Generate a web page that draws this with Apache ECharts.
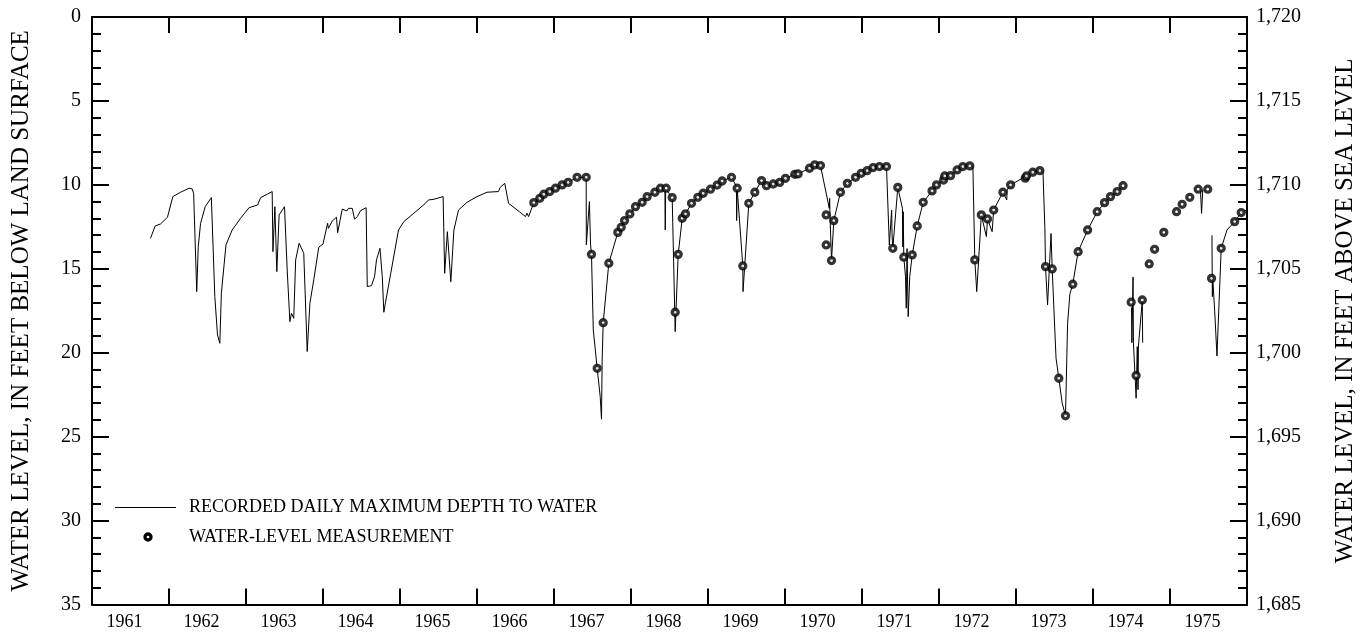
<!DOCTYPE html>
<html>
<head>
<meta charset="utf-8">
<title>Well hydrograph 1961-1975</title>
<script src="https://cdn.jsdelivr.net/npm/echarts@6/dist/echarts.min.js"></script>
<style>
  html, body { margin: 0; padding: 0; background: #fff; }
  #chart { width: 1369px; height: 633px; }
</style>
</head>
<body>
<div id="chart"></div>
<script>
// Year labels along the bottom axis (one per calendar year)
const yearLabels = ['1961', '1962', '1963', '1964', '1965', '1966', '1967', '1968',
  '1969', '1970', '1971', '1972', '1973', '1974', '1975'];

// Recorder trace: decimal year and daily maximum depth to water (ft); null = no record
const recordedYears = [
  1961.76, 1961.82, 1961.89, 1961.98, 1962.05, 1962.15, 1962.26, 1962.30, 1962.32, 1962.36,
  1962.38, 1962.41, 1962.47, 1962.55, 1962.57, 1962.595, 1962.63, 1962.66, 1962.68, 1962.74,
  1962.82, 1962.93, 1963.04, 1963.15, 1963.19, 1963.34, 1963.35, 1963.375, 1963.40, 1963.43,
  1963.50, 1963.535, 1963.57, 1963.59, 1963.62, 1963.645, 1963.69, 1963.75, 1963.795, 1963.83,
  1963.88, 1963.945, 1964.00, 1964.06, 1964.07, 1964.12, 1964.175, 1964.19, 1964.25, 1964.31,
  1964.33, 1964.38, 1964.41, 1964.445, 1964.49, 1964.56, 1964.575, 1964.63, 1964.67, 1964.695,
  1964.74, 1964.77, 1964.79, 1964.81, 1964.88, 1964.98, 1965.05, 1965.18, 1965.33, 1965.37,
  1965.44, 1965.56, 1965.58, 1965.615, 1965.66, 1965.70, 1965.76, 1965.87, 1966.00, 1966.13,
  1966.28, 1966.30, 1966.36, 1966.38, 1966.41, 1966.55, 1966.63, 1966.65, 1966.67, 1966.738,
  1966.816, 1966.868, 1966.945, 1967.019, 1967.106, 1967.184, 1967.30, 1967.418, 1967.42, 1967.46,
  1967.475, 1967.487, 1967.51, 1967.561, 1967.60, 1967.617, 1967.625, 1967.639, 1967.712, 1967.829,
  1967.873, 1967.916, 1967.985, 1968.058, 1968.145, 1968.21, 1968.31, 1968.383, 1968.44, 1968.445,
  1968.45, 1968.457, 1968.535, 1968.574, 1968.613, 1968.665, 1968.708, 1968.786, 1968.868, 1968.938,
  1969.032, 1969.119, 1969.184, 1969.305, 1969.37, 1969.372, 1969.379, 1969.452, 1969.455, 1969.53,
  1969.608, 1969.695, 1969.76, 1969.847, 1969.932, 1970.006, 1970.127, 1970.17, 1970.318, 1970.387,
  1970.461, 1970.575, 1970.58, 1970.585, 1970.604, 1970.634, 1970.72, 1970.81, 1970.916, 1970.99,
  1971.067, 1971.145, 1971.227, 1971.318, 1971.34, 1971.355, 1971.385, 1971.39, 1971.40, 1971.465,
  1971.525, 1971.53, 1971.535, 1971.543, 1971.565, 1971.575, 1971.585, 1971.60, 1971.62, 1971.652,
  1971.717, 1971.795, 1971.91, 1971.968, 1972.06, 1972.15, 1972.235, 1972.31, 1972.40, 1972.44,
  1972.465, 1972.49, 1972.55, 1972.615, 1972.63, 1972.69, 1972.71, 1972.83, 1972.88, 1972.885,
  1972.93, 1973.136, 1973.218, 1973.31, 1973.35, 1973.375, 1973.383, 1973.41, 1973.455, 1973.47,
  1973.49, 1973.52, 1973.556, 1973.60, 1973.643, 1973.67, 1973.70, 1973.737, 1973.807, 1973.93,
  1974.055, 1974.15, 1974.227, 1974.314, 1974.39, 1974.44,
  1974.50, 1974.505, 1974.515, 1974.52, 1974.525, 1974.56, 1974.575, 1974.585, 1974.59, 1974.64,
  1974.645, 1975.00,
  1975.395, 1975.41, 1975.425, 1975.50,
  1975.545, 1975.55, 1975.555, 1975.58, 1975.61, 1975.62, 1975.665, 1975.74, 1975.84, 1975.925,
  1976.00
];
const recordedDepths = [
  13.18, 12.45, 12.33, 11.93, 10.70, 10.44, 10.20, 10.24, 10.50, 16.36,
  13.68, 12.29, 11.30, 10.76, 10.80, 16.66, 18.94, 19.44, 16.46, 13.58,
  12.69, 11.99, 11.36, 11.20, 10.76, 10.40, 13.98, 11.30, 15.17, 11.79,
  11.30, 15.07, 18.15, 17.65, 17.95, 14.47, 13.48, 14.08, 19.93, 17.05,
  15.66, 13.72, 13.52, 12.29, 12.59, 12.15, 11.93, 12.85, 11.45, 11.55,
  11.40, 11.40, 12.05, 11.89, 11.53, 11.36, 16.06, 16.00, 15.47, 14.47,
  13.78, 15.47, 17.59, 17.05, 15.27, 12.69, 12.19, 11.69, 11.10, 10.90,
  10.86, 10.70, 15.27, 12.79, 15.77, 12.69, 11.50, 11.04, 10.70, 10.44,
  10.40, 10.15, 9.91, 10.00, 11.10, 11.60, 11.89, 11.69, 11.89, 11.06,
  10.80, 10.56, 10.40, 10.20, 10.00, 9.85, 9.55, 9.55, 13.58, 11.00,
  13.58, 14.14, 18.64, 20.93, 22.61, 23.96, 20.50, 18.21, 14.67, 12.83,
  12.53, 12.13, 11.73, 11.30, 11.04, 10.70, 10.44, 10.20, 10.20, 12.69,
  10.25, 10.20, 10.76, 18.74, 14.14, 11.99, 11.73, 11.10, 10.74, 10.50,
  10.26, 10.01, 9.77, 9.55, 10.10, 12.13, 10.20, 14.83, 16.36, 11.10,
  10.44, 9.75, 10.05, 9.95, 9.85, 9.61, 9.37, 9.35, 9.01, 8.81,
  8.85, 11.40, 10.80, 11.90, 14.51, 12.13, 10.44, 9.91, 9.55, 9.31,
  9.15, 8.97, 8.91, 8.91, 8.90, 13.58, 11.50, 12.90, 13.78, 10.15,
  11.40, 13.70, 11.60, 14.31, 15.47, 17.35, 13.80, 17.85, 15.47, 14.17,
  12.45, 11.04, 10.36, 10.00, 9.71, 9.45, 9.11, 8.91, 8.87, 8.87,
  14.47, 16.36, 11.79, 13.08, 12.03, 12.79, 11.50, 10.44, 10.90, 10.30,
  10.00, 9.47, 9.25, 9.15, 9.15, 12.60, 14.87, 17.15, 12.90, 15.01,
  17.15, 20.33, 21.52, 23.00, 23.76, 18.25, 16.50, 15.92, 13.98, 12.69,
  11.60, 11.06, 10.70, 10.40, 10.05, null,
  17.30, 19.40, 19.30, 15.50, 19.40, 22.71, 19.64, 22.20, 19.60, 16.90,
  19.40, null,
  10.26, 11.70, 10.30, null,
  13.00, 16.66, 15.57, 17.50, 20.20, 19.00, 13.78, 12.69, 12.19, 11.65,
  11.50
];

// Periodic tape measurements: decimal year and depth to water (ft)
const measuredYears = [
  1966.738, 1966.816, 1966.868, 1966.945, 1967.019, 1967.106, 1967.184, 1967.300, 1967.418, 1967.487,
  1967.561, 1967.639, 1967.712, 1967.829, 1967.873, 1967.916, 1967.985, 1968.058, 1968.145, 1968.210,
  1968.310, 1968.383, 1968.457, 1968.535, 1968.574, 1968.613, 1968.665, 1968.708, 1968.786, 1968.868,
  1968.938, 1969.032, 1969.119, 1969.184, 1969.305, 1969.379, 1969.452, 1969.530, 1969.608, 1969.695,
  1969.760, 1969.847, 1969.932, 1970.006, 1970.127, 1970.170, 1970.318, 1970.387, 1970.461, 1970.535,
  1970.535, 1970.604, 1970.634, 1970.720, 1970.810, 1970.916, 1970.990, 1971.067, 1971.145, 1971.227,
  1971.318, 1971.400, 1971.465, 1971.543, 1971.652, 1971.717, 1971.795, 1971.910, 1971.968, 1972.060,
  1972.075, 1972.150, 1972.235, 1972.310, 1972.400, 1972.465, 1972.550, 1972.630, 1972.710, 1972.830,
  1972.930, 1973.120, 1973.136, 1973.218, 1973.310, 1973.383, 1973.470, 1973.556, 1973.643, 1973.737,
  1973.807, 1973.930, 1974.055, 1974.150, 1974.227, 1974.314, 1974.390, 1974.496, 1974.560, 1974.640,
  1974.730, 1974.800, 1974.920, 1975.085, 1975.158, 1975.257, 1975.366, 1975.490, 1975.540, 1975.665,
  1975.840, 1975.925
];
const measuredDepths = [
  11.06, 10.80, 10.56, 10.40, 10.20, 10.00, 9.85, 9.55, 9.55, 14.14,
  20.93, 18.21, 14.67, 12.83, 12.53, 12.13, 11.73, 11.30, 11.04, 10.70,
  10.44, 10.20, 10.20, 10.76, 17.59, 14.14, 11.99, 11.73, 11.10, 10.74,
  10.50, 10.26, 10.01, 9.77, 9.55, 10.20, 14.83, 11.10, 10.44, 9.75,
  10.05, 9.95, 9.85, 9.61, 9.37, 9.35, 9.01, 8.81, 8.85, 11.79,
  13.58, 14.51, 12.13, 10.44, 9.91, 9.55, 9.31, 9.15, 8.97, 8.91,
  8.91, 13.78, 10.15, 14.31, 14.17, 12.45, 11.04, 10.36, 10.00, 9.71,
  9.47, 9.45, 9.11, 8.91, 8.87, 14.47, 11.79, 12.03, 11.50, 10.44,
  10.00, 9.60, 9.47, 9.25, 9.15, 14.87, 15.01, 21.52, 23.76, 15.92,
  13.98, 12.69, 11.60, 11.06, 10.70, 10.40, 10.05, 16.99, 21.36, 16.86,
  14.71, 13.84, 12.83, 11.60, 11.16, 10.74, 10.26, 10.26, 15.57, 13.78,
  12.19, 11.65
];

// Land surface altitude (ft above sea level) used for the right-hand scale
const landSurface = 1720;
const depthTicks = [0, 35, 5];   // min, max, interval

const FONT = "'Liberation Serif', 'Times New Roman', serif";

const recordedData = recordedYears.map((t, i) =>
  [t, recordedDepths[i] === null ? '-' : recordedDepths[i]]);
const measuredData = measuredYears.map((t, i) => [t, measuredDepths[i]]);

const tickAxis = (position) => ({
  type: 'value',
  position: position,
  gridIndex: 0,
  min: 1961,
  max: 1976,
  interval: 1,
  axisLine: { show: true, onZero: false, lineStyle: { color: '#000', width: 2 } },
  axisTick: { show: true, inside: true, length: 16, lineStyle: { color: '#000', width: 2 } },
  axisLabel: { show: false },
  splitLine: { show: false }
});

const chart = echarts.init(document.getElementById('chart'), null, { renderer: 'canvas' });

chart.setOption({
  animation: false,
  backgroundColor: '#fff',
  grid: { left: 92, top: 17, width: 1155, height: 587.5, containLabel: false },
  xAxis: [
    tickAxis('bottom'),
    tickAxis('top'),
    {
      type: 'category',
      position: 'bottom',
      data: yearLabels,
      boundaryGap: true,
      axisLine: { show: false },
      axisTick: { show: false },
      splitLine: { show: false },
      axisLabel: {
        interval: 0, margin: 9, color: '#000', fontFamily: FONT, fontSize: 18,
        padding: [0, 12, 0, 0]
      }
    }
  ],
  yAxis: [
    {
      type: 'value',
      position: 'left',
      inverse: true,
      min: depthTicks[0],
      max: depthTicks[1],
      interval: depthTicks[2],
      name: 'WATER LEVEL, IN FEET BELOW LAND SURFACE',
      nameLocation: 'middle',
      nameRotate: 90,
      nameGap: 58,
      nameTextStyle: { color: '#000', fontFamily: FONT, fontSize: 25 },
      axisLine: { show: true, onZero: false, lineStyle: { color: '#000', width: 2 } },
      axisTick: { show: true, inside: true, length: 17, lineStyle: { color: '#000', width: 2 } },
      minorTick: { show: true, splitNumber: 5, length: 9, lineStyle: { color: '#000', width: 2 } },
      axisLabel: { margin: 11, color: '#000', fontFamily: FONT, fontSize: 20 },
      splitLine: { show: false },
      minorSplitLine: { show: false }
    },
    {
      type: 'value',
      position: 'right',
      min: landSurface - depthTicks[1],
      max: landSurface - depthTicks[0],
      interval: depthTicks[2],
      name: 'WATER LEVEL, IN FEET ABOVE SEA LEVEL',
      nameLocation: 'middle',
      nameRotate: 90,
      nameGap: 86,
      nameTextStyle: { color: '#000', fontFamily: FONT, fontSize: 25 },
      axisLine: { show: true, onZero: false, lineStyle: { color: '#000', width: 2 } },
      axisTick: { show: true, inside: true, length: 17, lineStyle: { color: '#000', width: 2 } },
      minorTick: { show: true, splitNumber: 5, length: 9, lineStyle: { color: '#000', width: 2 } },
      axisLabel: {
        margin: 9, color: '#000', fontFamily: FONT, fontSize: 20,
        formatter: (v) => v.toLocaleString('en-US')
      },
      splitLine: { show: false },
      minorSplitLine: { show: false }
    }
  ],
  series: [
    {
      name: 'RECORDED DAILY MAXIMUM DEPTH TO WATER',
      type: 'line',
      xAxisIndex: 0,
      yAxisIndex: 0,
      data: recordedData,
      showSymbol: false,
      connectNulls: false,
      lineStyle: { color: '#000', width: 1 },
      z: 2
    },
    {
      name: 'WATER-LEVEL MEASUREMENT',
      type: 'scatter',
      xAxisIndex: 0,
      yAxisIndex: 0,
      data: measuredData,
      symbol: 'circle',
      symbolSize: 6,
      itemStyle: { color: '#fff', borderColor: '#000', borderWidth: 3.3 },
      z: 3
    }
  ],
  graphic: [
    {
      type: 'line',
      shape: { x1: 115, y1: 507.5, x2: 176, y2: 507.5 },
      style: { stroke: '#000', lineWidth: 1 }
    },
    {
      type: 'circle',
      shape: { cx: 148, cy: 537, r: 3 },
      style: { fill: '#fff', stroke: '#000', lineWidth: 3.3 }
    },
    {
      type: 'text',
      x: 189, y: 507,
      style: {
        text: 'RECORDED DAILY MAXIMUM DEPTH TO WATER',
        fill: '#000', font: '18px ' + FONT, textVerticalAlign: 'middle'
      }
    },
    {
      type: 'text',
      x: 189, y: 537,
      style: {
        text: 'WATER-LEVEL MEASUREMENT',
        fill: '#000', font: '18px ' + FONT, textVerticalAlign: 'middle'
      }
    }
  ]
});
</script>
</body>
</html>
